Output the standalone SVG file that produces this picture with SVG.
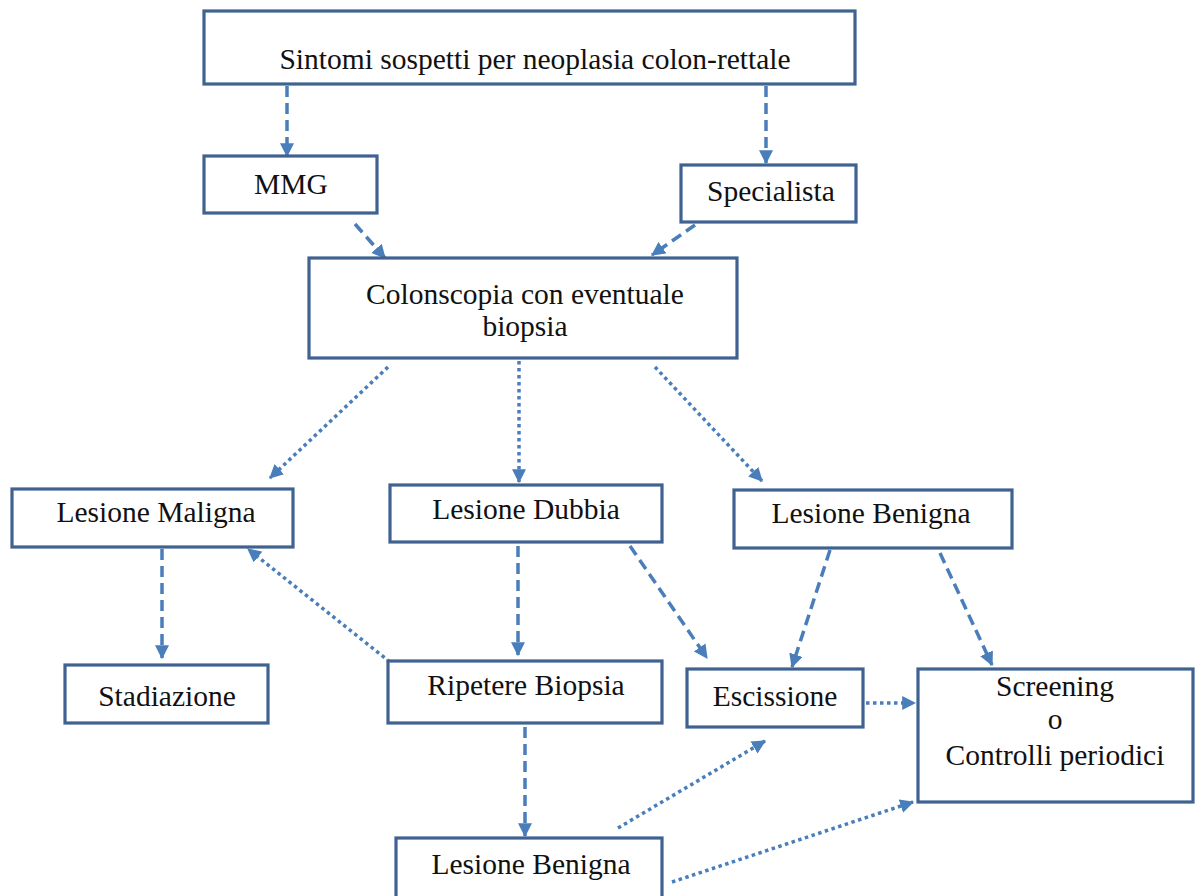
<svg xmlns="http://www.w3.org/2000/svg" width="1196" height="896" viewBox="0 0 1196 896">
<defs>
<marker id="ah" viewBox="0 0 12 12" refX="11" refY="6" markerWidth="14" markerHeight="14" markerUnits="userSpaceOnUse" orient="auto">
<path d="M0,0 L12,6 L0,12 z" fill="#4a7ebb"/>
</marker>
<style>
.box{fill:#fff;stroke:#3f6290;stroke-width:3.2}
.dash{fill:none;stroke:#4a7ebb;stroke-width:3.5;stroke-dasharray:11 6;marker-end:url(#ah)}
.dot{fill:none;stroke:#4a7ebb;stroke-width:3.5;stroke-dasharray:3.5 3.5;marker-end:url(#ah)}
</style>
</defs>
<rect width="1196" height="896" fill="#fff"/>
<g id="connectors">
<line class="dash" x1="287" y1="86" x2="287" y2="156"/>
<line class="dash" x1="766" y1="86" x2="766" y2="163"/>
<line class="dash" x1="355" y1="224" x2="385" y2="258"/>
<line class="dash" x1="695" y1="225" x2="652" y2="255"/>
<line class="dot" x1="388" y1="367" x2="270" y2="478"/>
<line class="dot" x1="519" y1="361" x2="519" y2="482"/>
<line class="dot" x1="655" y1="367" x2="762" y2="481"/>
<line class="dash" x1="162" y1="549" x2="162" y2="658"/>
<line class="dash" x1="518" y1="546" x2="518" y2="655"/>
<line class="dot" x1="390" y1="662" x2="248" y2="549"/>
<line class="dash" x1="630" y1="546" x2="707" y2="658"/>
<line class="dash" x1="830" y1="550" x2="792" y2="667"/>
<line class="dash" x1="940" y1="553" x2="992" y2="665"/>
<line class="dot" x1="866" y1="703" x2="915" y2="703"/>
<line class="dash" x1="525" y1="727" x2="525" y2="836"/>
<line class="dot" x1="618" y1="828" x2="765" y2="741"/>
<line class="dot" x1="672" y1="882" x2="913" y2="802"/>
</g>
<g font-family="'Liberation Serif', serif" font-size="29.5" fill="#111" text-anchor="middle">
<g id="n-sintomi"><rect class="box" x="204" y="11" width="651" height="73"/><text x="535" y="69">Sintomi sospetti per neoplasia colon-rettale</text></g>
<g id="n-mmg"><rect class="box" x="204" y="156" width="173" height="57"/><text x="291" y="194">MMG</text></g>
<g id="n-specialista"><rect class="box" x="681" y="165" width="175" height="57"/><text x="771" y="201">Specialista</text></g>
<g id="n-colonscopia"><rect class="box" x="309" y="258" width="428" height="100"/><text x="525" y="304">Colonscopia con eventuale</text><text x="525" y="336">biopsia</text></g>
<g id="n-maligna"><rect class="box" x="12" y="489" width="281" height="58"/><text x="156" y="522">Lesione Maligna</text></g>
<g id="n-dubbia"><rect class="box" x="390" y="485" width="272" height="57"/><text x="526" y="519">Lesione Dubbia</text></g>
<g id="n-benigna1"><rect class="box" x="734" y="490" width="278" height="58"/><text x="871" y="523">Lesione Benigna</text></g>
<g id="n-stadiazione"><rect class="box" x="65" y="665" width="203" height="58"/><text x="167" y="706">Stadiazione</text></g>
<g id="n-ripetere"><rect class="box" x="388" y="661" width="274" height="62"/><text x="526" y="695">Ripetere Biopsia</text></g>
<g id="n-escissione"><rect class="box" x="687" y="669" width="176" height="58"/><text x="775" y="706">Escissione</text></g>
<g id="n-screening"><rect class="box" x="918" y="669" width="275" height="133"/><text x="1055" y="696">Screening</text><text x="1055" y="729">o</text><text x="1055" y="765">Controlli periodici</text></g>
<g id="n-benigna2"><rect class="box" x="396" y="838" width="266" height="60"/><text x="531" y="874">Lesione Benigna</text></g>
</g>
</svg>
